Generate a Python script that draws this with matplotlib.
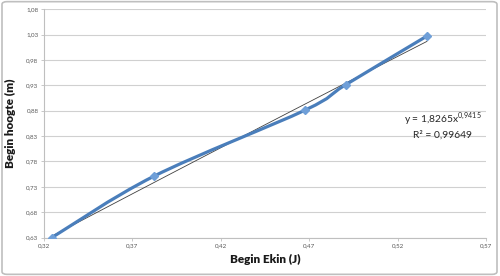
import matplotlib.pyplot as plt
import numpy as np
from matplotlib.path import Path
from matplotlib.patches import PathPatch, FancyBboxPatch

plt.rcParams['font.family'] = ['Lato', 'DejaVu Sans']
plt.rcParams['mathtext.fontset'] = 'custom'
plt.rcParams['mathtext.rm'] = 'Lato'

# meetpunten
ekin = [0.3244, 0.3822, 0.4676, 0.4906, 0.5366]
hoogte = [0.630, 0.751, 0.881, 0.931, 1.027]

# trendlijn (macht) uit Excel
coef_a = 1.8265
coef_b = 0.9415
r2_text = "0,99649"

x_ticks = [0.32, 0.37, 0.42, 0.47, 0.52, 0.57]
y_ticks = [0.63, 0.68, 0.73, 0.78, 0.83, 0.88, 0.93, 0.98, 1.03, 1.08]


def komma(v):
    return f"{v:.2f}".replace(".", ",")


def smooth_path(xs, ys, t=1 / 6):
    # Catmull-Rom achtige bezier zoals Excel's "vloeiende lijn"
    pts = np.column_stack([xs, ys])
    verts = [pts[0]]
    codes = [Path.MOVETO]
    n = len(pts)
    for i in range(n - 1):
        p0 = pts[i - 1] if i > 0 else pts[i]
        p1 = pts[i]
        p2 = pts[i + 1]
        p3 = pts[i + 2] if i + 2 < n else pts[i + 1]
        c1 = p1 + (p2 - p0) * t
        c2 = p2 - (p3 - p1) * t
        verts += [c1, c2, p2]
        codes += [Path.CURVE4] * 3
    return Path(verts, codes)


fig = plt.figure(figsize=(5, 2.76), dpi=100)
fig.patches.append(FancyBboxPatch((0.004, 0.006), 0.99, 0.988, boxstyle="round,pad=0,rounding_size=0.01",
                                  transform=fig.transFigure, fill=False, ec="#bfbfbf", lw=1.2))
ax = fig.add_axes([0.088, 0.139, 0.884, 0.828])

ax.set_xlim(0.32, 0.57)
ax.set_ylim(0.63, 1.08)
ax.set_xticks(x_ticks)
ax.set_yticks(y_ticks)
ax.set_xticklabels([komma(v) for v in x_ticks])
ax.set_yticklabels([komma(v) for v in y_ticks])
ax.tick_params(labelsize=4.5, colors="#595959", length=2, width=0.6, color="#bfbfbf", pad=2)
ax.grid(axis="y", color="#d0d0d0", lw=0.8)
ax.set_axisbelow(True)
for s in ["top", "right"]:
    ax.spines[s].set_visible(False)
for s in ["left", "bottom"]:
    ax.spines[s].set_color("#bfbfbf")
    ax.spines[s].set_linewidth(0.8)

# trendlijn
xt = np.linspace(ekin[0], ekin[-1], 50)
ax.plot(xt, coef_a * xt ** coef_b, color="#404040", lw=0.6, zorder=2)

# gemeten, vloeiend
patch = PathPatch(smooth_path(ekin, hoogte), fill=False, ec="#4a7ebb", lw=2.3, zorder=3,
                  transform=ax.transData, capstyle="round", joinstyle="round")
ax.add_patch(patch)
ax.plot(ekin, hoogte, ls="none", marker="D", ms=4, color="#6f9fd8", mec="#6f9fd8", zorder=4)

ax.text(0.5455, 0.845, "y = 1,8265x$^{0{,}9415}$", ha="center", va="bottom", fontsize=7.4, color="#262626")
ax.text(0.5455, 0.841, f"R² = {r2_text}", ha="center", va="top", fontsize=7.4, color="#262626")

ax.set_xlabel("Begin Ekin (J)", fontsize=8.5, fontweight="heavy", color="#1a1a1a", labelpad=4)
ax.set_ylabel("Begin hoogte (m)", fontsize=8.5, fontweight="heavy", color="#1a1a1a", labelpad=7)

fig.savefig("out.png", dpi=100)
